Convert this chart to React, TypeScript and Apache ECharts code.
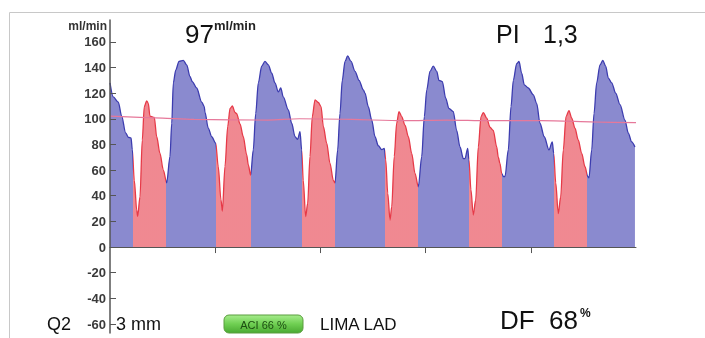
import React, { useEffect, useRef } from "react";
import * as echarts from "echarts";

// Flow waveform: [time (s), flow (ml/min)]
const flowSamples: [number, number][] = [
  [0.0, 128], [0.031, 117], [0.079, 113], [0.111, 102], [0.149, 89], [0.174, 85.6], [0.2, 85],
  [0.212, 76], [0.231, 52], [0.254, 29], [0.263, 24], [0.285, 39], [0.307, 83.5], [0.326, 109.5],
  [0.349, 114], [0.364, 112], [0.38, 102], [0.421, 101], [0.444, 86], [0.475, 73], [0.507, 60],
  [0.539, 50], [0.57, 70.5], [0.587, 96.5], [0.602, 128], [0.625, 138], [0.656, 144.7], [0.697, 145.5],
  [0.729, 142], [0.76, 133], [0.782, 129], [0.824, 124], [0.872, 113], [0.896, 109.5], [0.903, 105],
  [0.934, 92.7], [0.967, 86], [1.005, 81], [1.029, 62.7], [1.055, 36.7], [1.068, 28], [1.093, 62.7],
  [1.119, 94], [1.141, 108], [1.163, 110], [1.188, 105], [1.204, 104], [1.236, 96], [1.267, 86],
  [1.299, 72], [1.315, 64], [1.337, 56], [1.362, 75.7], [1.385, 104], [1.41, 128], [1.442, 141],
  [1.473, 144.7], [1.505, 142], [1.537, 135.6], [1.568, 128], [1.6, 121], [1.623, 124], [1.647, 117],
  [1.695, 107], [1.727, 96.5], [1.759, 86], [1.784, 84], [1.806, 90], [1.822, 75.7], [1.837, 52],
  [1.86, 23.7], [1.879, 34], [1.901, 70.5], [1.923, 101.7], [1.949, 114.8], [1.98, 112.7], [2.006, 109.5],
  [2.028, 94], [2.06, 81], [2.091, 65.3], [2.123, 52], [2.139, 50], [2.164, 75.7], [2.186, 104],
  [2.208, 130], [2.234, 144.7], [2.259, 149], [2.291, 144.7], [2.329, 137], [2.367, 130], [2.408, 122.6],
  [2.424, 120], [2.455, 109.5], [2.488, 99], [2.519, 86], [2.55, 79], [2.583, 76], [2.607, 77],
  [2.621, 68], [2.64, 42], [2.662, 21], [2.678, 31.5], [2.702, 70.5], [2.725, 96.5], [2.747, 105.6],
  [2.773, 101.7], [2.804, 95], [2.836, 86], [2.868, 73], [2.899, 57.5], [2.931, 47], [2.963, 70.5],
  [2.988, 101.7], [3.011, 122.6], [3.042, 137], [3.073, 141], [3.106, 137], [3.127, 130], [3.159, 129],
  [3.191, 116], [3.222, 108], [3.263, 105.6], [3.295, 91], [3.327, 78], [3.359, 69], [3.375, 69],
  [3.4, 77], [3.412, 68], [3.431, 44.5], [3.453, 25], [3.476, 36.7], [3.501, 78], [3.527, 101.7],
  [3.549, 104.8], [3.581, 100.5], [3.612, 93.4], [3.643, 91], [3.676, 78], [3.691, 70], [3.707, 65],
  [3.723, 57.5], [3.739, 55], [3.755, 55], [3.786, 75.7], [3.812, 109.5], [3.834, 130], [3.866, 143],
  [3.888, 144.7], [3.913, 135.6], [3.938, 126.5], [3.976, 124], [4.024, 118.7], [4.056, 112], [4.087, 96.5],
  [4.128, 86], [4.173, 75.7], [4.204, 82], [4.218, 73], [4.237, 50], [4.261, 26], [4.284, 39],
  [4.309, 75.7], [4.335, 101.7], [4.363, 106.4], [4.389, 100.5], [4.42, 92.7], [4.451, 83.5], [4.484, 73],
  [4.515, 62.7], [4.541, 55], [4.553, 54], [4.579, 75.7], [4.601, 104], [4.626, 128], [4.658, 142],
  [4.684, 145.5], [4.712, 141], [4.737, 131.7], [4.769, 128], [4.807, 120], [4.848, 111], [4.895, 99],
  [4.927, 88.8], [4.959, 82], [4.99, 78],
];

// Mean flow trend line
const meanFlow: [number, number][] = [
  [0, 102], [0.5, 100.5], [0.8, 99.5], [1.5, 99], [1.8, 100], [2.3, 99.5], [2.8, 98.5],
  [3.2, 99], [3.6, 98.5], [4.1, 98.5], [4.6, 97.5], [5, 97],
];

// Systolic segments (time ranges, s)
const systoleRanges: [number, number][] = [
  [0.216, 0.532], [1.008, 1.337], [1.822, 2.139], [2.614, 2.931], [3.413, 3.729], [4.218, 4.534],
];

const yTickValues = [-60, -40, -20, 0, 20, 40, 60, 80, 100, 120, 140, 160];
const xTickValues = [1, 2, 3, 4];

const meanValueText = "97";
const unitText = "ml/min";
const piLabel = "PI";
const piValue = "1,3";
const dfLabel = "DF";
const dfValue = "68";
const dfUnit = "%";
const probeText = "Q2";
const probeSize = "3 mm";
const aciText = "ACI 66 %";
const vesselText = "LIMA LAD";

const BLUE = "#3c3caf";
const PINK = "#e63a48";
const FONT = "Liberation Sans, Arial, sans-serif";

export default function App() {
  const ref = useRef<HTMLDivElement>(null);

  useEffect(() => {
    if (!ref.current) return;
    const chart = echarts.init(ref.current, undefined, { renderer: "svg" });

    const pieces: any[] = [];
    let prev = -1;
    systoleRanges.forEach(([a, b]) => {
      pieces.push({ gte: prev, lt: a, color: BLUE });
      pieces.push({ gte: a, lt: b, color: PINK });
      prev = b;
    });
    pieces.push({ gte: prev, lte: 10, color: BLUE });

    const txt = (x: number, y: number, text: string, size: number, extra: any = {}) => ({
      type: "text",
      x,
      y,
      silent: true,
      z: 20,
      style: {
        text,
        fontSize: size,
        fontFamily: FONT,
        fill: "#111",
        align: "left",
        verticalAlign: "middle",
        ...extra,
      },
    });

    chart.setOption({
      animation: false,
      grid: { left: 110, right: 69, top: 20, bottom: 5 },
      xAxis: {
        type: "value",
        min: 0,
        max: 5,
        z: 6,
        axisLine: { onZero: true, lineStyle: { color: "#555", width: 1 } },
        axisTick: { show: true, customValues: xTickValues, length: 6, lineStyle: { color: "#555" } },
        axisLabel: { show: false },
        splitLine: { show: false },
      },
      yAxis: {
        type: "value",
        min: -67,
        max: 177,
        z: 6,
        axisLine: { show: true, lineStyle: { color: "#555", width: 1.5 } },
        axisTick: {
          show: true,
          inside: true,
          length: 6,
          customValues: yTickValues,
          lineStyle: { color: "#555" },
        },
        axisLabel: {
          customValues: yTickValues,
          margin: 4,
          fontSize: 13,
          fontWeight: "bold",
          fontFamily: FONT,
          color: "#3a3a3a",
        },
        splitLine: { show: false },
      },
      visualMap: {
        show: false,
        type: "piecewise",
        dimension: 0,
        seriesIndex: 0,
        pieces,
      },
      series: [
        {
          type: "line",
          data: flowSamples,
          showSymbol: false,
          silent: true,
          smooth: 0.3,
          smoothMonotone: "x",
          lineStyle: { width: 1.3 },
          areaStyle: { opacity: 0.6 },
          z: 2,
        },
        {
          type: "line",
          data: meanFlow,
          showSymbol: false,
          silent: true,
          smooth: 0.3,
          lineStyle: { width: 1.2, color: "#e6789a" },
          itemStyle: { color: "#e6789a" },
          z: 3,
        },
      ],
      graphic: [
        {
          type: "rect",
          shape: { x: 9.5, y: 12.5, width: 720, height: 340 },
          style: { fill: "none", stroke: "#c8c8c8", lineWidth: 1 },
          silent: true,
          z: 0,
        },
        txt(107, 26, unitText, 12, { align: "right", fontWeight: "bold", fill: "#333" }),
        txt(185, 34, meanValueText, 26),
        txt(214, 25, unitText, 13, { fontWeight: "bold", fill: "#222" }),
        txt(496, 34, piLabel, 25),
        txt(543, 34, piValue, 25),
        txt(500, 320, dfLabel, 26),
        txt(549, 320, dfValue, 26),
        txt(580, 313, dfUnit, 12, { fontWeight: "bold" }),
        txt(47, 324, probeText, 18),
        txt(116, 324, probeSize, 18),
        {
          type: "rect",
          shape: { x: 224, y: 315, width: 79, height: 18, r: 5 },
          style: {
            fill: new echarts.graphic.LinearGradient(0, 0, 0, 1, [
              { offset: 0, color: "#a6ec8c" },
              { offset: 0.5, color: "#6fcf52" },
              { offset: 1, color: "#4aa932" },
            ]),
            stroke: "#5a9d3e",
            lineWidth: 1,
          },
          silent: true,
          z: 19,
        },
        txt(263.5, 324.5, aciText, 11, { align: "center", fill: "#1d4d12" }),
        txt(320, 324, vesselText, 17),
      ],
    });

    return () => chart.dispose();
  }, []);

  return (
    <div
      ref={ref}
      style={{ position: "fixed", left: 0, top: 0, width: 705, height: 338 }}
    />
  );
}
